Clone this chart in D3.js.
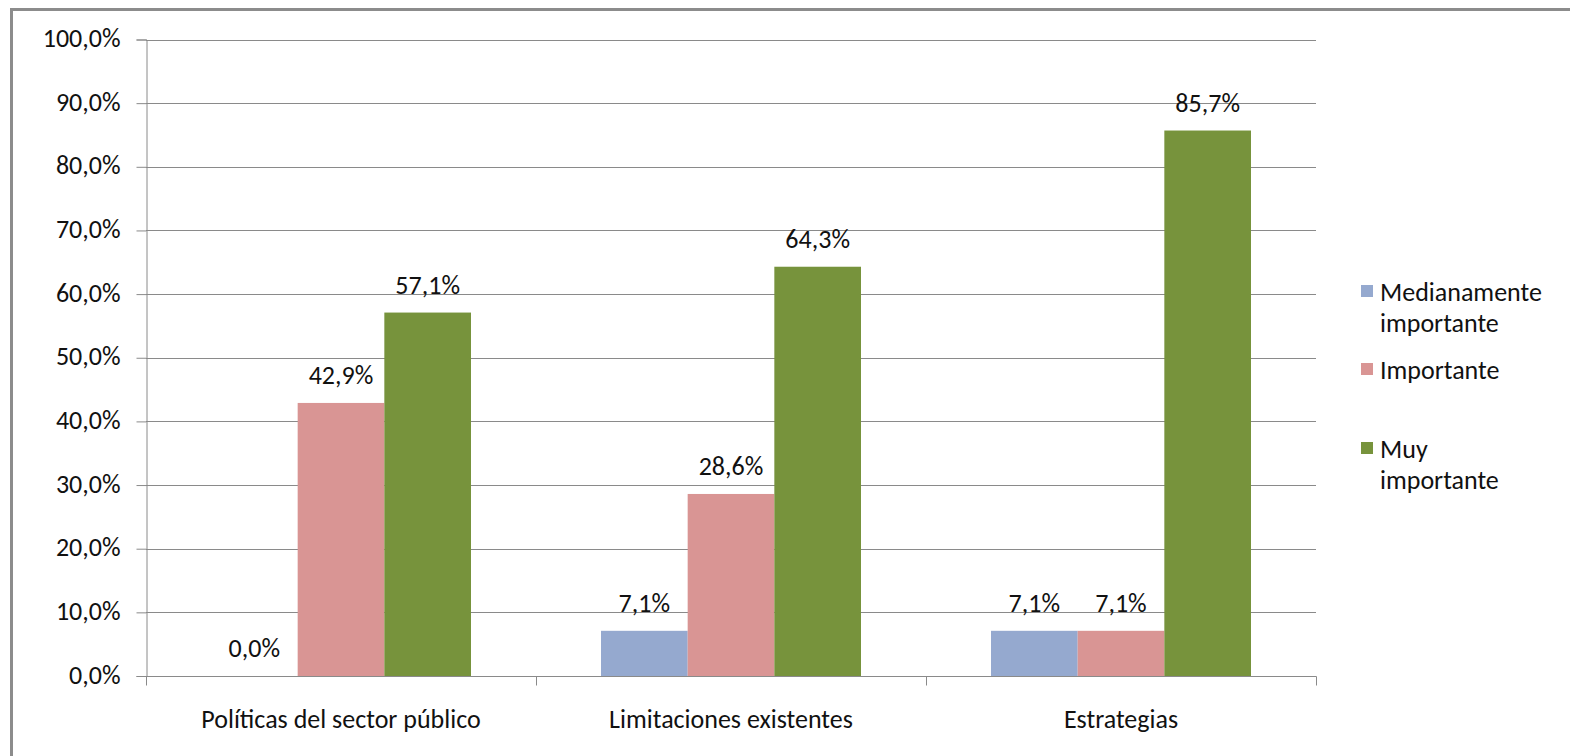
<!DOCTYPE html>
<html>
<head>
<meta charset="utf-8">
<script src="https://cdn.jsdelivr.net/npm/d3@7"></script>
<style>
  html, body { margin: 0; padding: 0; background: #fff; }
  svg text { font-family: Carlito, Lato, "Open Sans", sans-serif; fill: #111; }
</style>
</head>
<body>
<svg id="chart" width="1570" height="756"></svg>
<script>
const categories = ["Políticas del sector público", "Limitaciones existentes", "Estrategias"];
const seriesNames = ["Medianamente importante", "Importante", "Muy importante"];
const seriesColors = ["#95a9cf", "#d99594", "#77933c"];
const medianamente = [0.0, 7.1, 7.1];
const importante = [42.9, 28.6, 7.1];
const muyImportante = [57.1, 64.3, 85.7];
const yTicks = [0, 10, 20, 30, 40, 50, 60, 70, 80, 90, 100];

const seriesValues = [medianamente, importante, muyImportante];
const fmt = v => v.toFixed(1).replace(".", ",") + "%";
const FS = 26;

const svg = d3.select("#chart");

// chart frame
svg.append("rect")
  .attr("x", 11.5).attr("y", 9.5)
  .attr("width", 1570).attr("height", 760)
  .attr("fill", "none").attr("stroke", "#8c8c8c").attr("stroke-width", 3);

const plotLeft = 146, plotRight = 1316, plotTop = 39.5, plotBottom = 676;

const y = d3.scaleLinear().domain([0, 100]).range([plotBottom, plotTop]);
const x0 = d3.scaleBand().domain(categories).range([plotLeft, plotRight]).paddingInner(0).paddingOuter(0);
const bw = x0.bandwidth() / 4.5;
const x1 = d3.scaleBand().domain(d3.range(3)).range([0.75 * bw, 3.75 * bw]).padding(0);

// gridlines
svg.append("g").selectAll("line").data(yTicks.filter(t => t > 0)).join("line")
  .attr("x1", plotLeft).attr("x2", plotRight)
  .attr("y1", d => Math.round(y(d)) + 0.5).attr("y2", d => Math.round(y(d)) + 0.5)
  .attr("stroke", "#8a8a8a").attr("stroke-width", 1);

// y axis
const yAxis = svg.append("g").attr("transform", `translate(${plotLeft + 0.5},0)`)
  .call(d3.axisLeft(y).tickValues(yTicks).tickFormat(fmt).tickSize(10).tickPadding(16));
yAxis.select(".domain").attr("stroke", "#8a8a8a");
yAxis.selectAll(".tick line").attr("stroke", "#8a8a8a");
yAxis.selectAll(".tick text").attr("font-size", FS).attr("fill", "#111").attr("dy", "0.27em")
  .attr("font-family", "Carlito, Lato, 'Open Sans', sans-serif");

// bars
const groups = svg.append("g").selectAll("g").data(categories).join("g")
  .attr("transform", d => `translate(${x0(d)},0)`);

groups.each(function(cat, ci) {
  const g = d3.select(this);
  seriesValues.forEach((vals, si) => {
    const v = vals[ci];
    g.append("rect")
      .attr("x", x1(si)).attr("width", x1.bandwidth())
      .attr("y", y(v)).attr("height", y(0) - y(v))
      .attr("fill", seriesColors[si]);
    g.append("text")
      .attr("x", x1(si) + x1.bandwidth() / 2)
      .attr("y", y(v) - 19)
      .attr("text-anchor", "middle")
      .attr("font-size", FS)
      .text(fmt(v));
  });
});

// x axis
const xAxis = svg.append("g").attr("transform", `translate(0,${plotBottom + 0.5})`);
xAxis.append("line").attr("x1", plotLeft).attr("x2", plotRight + 0.5).attr("stroke", "#8a8a8a");
xAxis.selectAll("line.tk").data([plotLeft, ...categories.map(c => x0(c) + x0.bandwidth())]).join("line")
  .attr("class", "tk")
  .attr("x1", d => Math.round(d) + 0.5).attr("x2", d => Math.round(d) + 0.5)
  .attr("y1", 0).attr("y2", 9).attr("stroke", "#8a8a8a");
xAxis.selectAll("text").data(categories).join("text")
  .attr("x", d => x0(d) + x0.bandwidth() / 2)
  .attr("y", 51)
  .attr("text-anchor", "middle")
  .attr("font-size", FS)
  .text(d => d);

// legend
const legendItems = [
  { lines: ["Medianamente", "importante"], y: 292 },
  { lines: ["Importante"], y: 370 },
  { lines: ["Muy", "importante"], y: 449 }
];
const legend = svg.append("g");
legendItems.forEach((item, i) => {
  legend.append("rect")
    .attr("x", 1361).attr("y", item.y - 7).attr("width", 12).attr("height", 12)
    .attr("fill", seriesColors[i]);
  const t = legend.append("text").attr("x", 1380).attr("y", item.y + 9).attr("font-size", FS);
  item.lines.forEach((ln, li) => {
    t.append("tspan").attr("x", 1380).attr("dy", li === 0 ? 0 : 31).text(ln);
  });
});
</script>
</body>
</html>
